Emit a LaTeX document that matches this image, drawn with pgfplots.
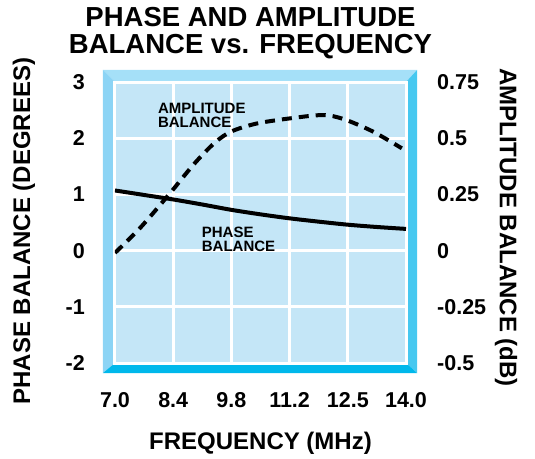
\documentclass[border=0pt]{standalone}
\usepackage{fontspec}
\setmainfont{Liberation Sans}
\usepackage{pgfplots}
\usepackage{pgfplotstable}
\pgfplotsset{compat=1.18}

\definecolor{panel}{RGB}{196,230,247}
\definecolor{bevtop}{RGB}{165,224,248}
\definecolor{bevleft}{RGB}{140,212,245}
\definecolor{bevright}{RGB}{70,200,240}
\definecolor{bevbot}{RGB}{0,184,235}

\newcommand{\tickfont}{\fontsize{21.5}{21.5}\selectfont\bfseries}
\newcommand{\labfont}{\fontsize{24}{24}\selectfont\bfseries}
\newcommand{\notefont}{\fontsize{15}{14}\selectfont\bfseries}
\newcommand{\titlefont}{\fontsize{27.5}{27}\selectfont\bfseries}

% phase balance, degrees (left axis)
\pgfplotstableread{
x y
7.0 1.07
7.7 0.99
8.4 0.91
9.1 0.82
9.8 0.725
10.5 0.645
11.2 0.574
11.9 0.515
12.6 0.461
13.3 0.42
14.0 0.386
}\phase

% amplitude balance, dB (right axis)
\pgfplotstableread{
x y
7.0 -0.01
7.6 0.10
8.3 0.25
8.9 0.385
9.4 0.48
9.8 0.53
10.4 0.565
11.2 0.588
12.0 0.603
12.5 0.585
13.2 0.53
13.9 0.455
}\ampl

\begin{document}
\begin{tikzpicture}
\useasboundingbox (-115pt,-95pt) rectangle (420pt,363pt);
% bevelled frame round the plot area
\fill[bevtop] (-12pt,293pt) -- (302pt,293pt) -- (291pt,281pt) -- (0pt,281pt) -- cycle;
\fill[bevleft] (-12pt,293pt) -- (0pt,281pt) -- (0pt,0pt) -- (-12pt,-10pt) -- cycle;
\fill[bevright] (302pt,293pt) -- (302pt,-10pt) -- (291pt,0pt) -- (291pt,281pt) -- cycle;
\fill[bevbot] (-12pt,-10pt) -- (302pt,-10pt) -- (291pt,0pt) -- (0pt,0pt) -- cycle;

\node[anchor=north, inner sep=0pt, align=center, font=\titlefont] at (135.5pt,356pt)
  {PHASE AND AMPLITUDE\\BALANCE vs. FREQUENCY};

\begin{axis}[
    at={(0pt,0pt)}, anchor=south west,
    scale only axis, width=291pt, height=281pt,
    xmin=7, xmax=14, ymin=-2, ymax=3,
    xtick={7,8.4,9.8,11.2,12.6,14},
    xticklabels={7.0,8.4,9.8,11.2,12.5,14.0},
    ytick={-2,-1,0,1,2,3},
    yticklabels={-2,-1,0,1,2,3},
    axis background/.style={fill=panel},
    xmajorgrids, ymajorgrids,
    major grid style={draw=white, line width=3pt},
    axis line style={draw=white, line width=3pt},
    tick align=inside,
    major tick style={draw=white, line width=3pt},
    tick label style={font=\tickfont, inner sep=0pt},
    yticklabel style={anchor=east, xshift=-30pt},
    xticklabel style={anchor=north, yshift=-29pt},
    xlabel={FREQUENCY (MHz)},
    xlabel style={at={(rel axis cs:0.5,0)}, anchor=north, yshift=-69pt, inner sep=0pt, font=\labfont},
    ylabel={PHASE BALANCE (DEGREES)},
    ylabel style={at={(rel axis cs:-0.3127,0.4698)}, anchor=center, inner sep=0pt, font=\labfont},
]
\addplot[black, line width=4pt, smooth] table[x=x, y=y] {\phase};
\node[anchor=north west, inner sep=0pt, align=left, font=\notefont] at (axis cs:8.03,2.626) {AMPLITUDE\\BALANCE};
\node[anchor=north west, inner sep=0pt, align=left, font=\notefont] at (axis cs:9.085,0.425) {PHASE\\BALANCE};
\end{axis}

\begin{axis}[
    at={(0pt,0pt)}, anchor=south west,
    scale only axis, width=291pt, height=281pt,
    xmin=7, xmax=14, ymin=-0.5, ymax=0.75,
    axis y line*=right, axis x line=none,
    ytick={-0.5,-0.25,0,0.25,0.5,0.75},
    yticklabels={-0.5,-0.25,0,0.25,0.5,0.75},
    axis line style={draw=none},
    tick style={draw=none},
    yticklabel style={anchor=west, xshift=31pt, inner sep=0pt, font=\tickfont},
    ylabel={AMPLITUDE BALANCE (dB)},
    ylabel style={at={(rel axis cs:1.3436,0.482)}, anchor=center, rotate=180, inner sep=0pt, font=\labfont},
]
\addplot[black, line width=4pt, dash pattern=on 10pt off 7pt, smooth] table[x=x, y=y] {\ampl};
\end{axis}
\end{tikzpicture}
\end{document}
